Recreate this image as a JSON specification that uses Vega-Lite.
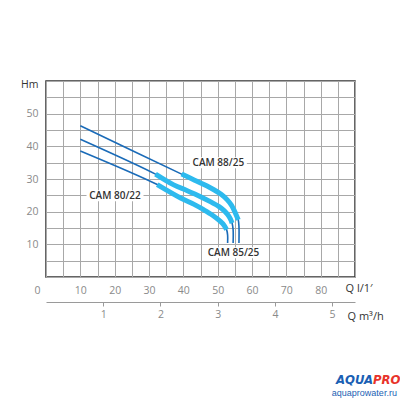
{
  "$schema": "https://vega.github.io/schema/vega-lite/v6.json",
  "width": 309,
  "height": 196,
  "autosize": "none",
  "padding": {"left": 46, "top": 81, "right": 45, "bottom": 123},
  "background": "white",
  "config": {
    "view": {"stroke": "#333333", "strokeWidth": 1.5},
    "axis": {
      "labelFont": "Open Sans",
      "labelFontSize": 10.5,
      "labelColor": "#8a8a8a",
      "titleFont": "Open Sans",
      "titleFontWeight": "normal",
      "titleFontSize": 11,
      "titleColor": "#333333",
      "gridColor": "#a8a8a8",
      "gridWidth": 1,
      "gridOpacity": 1
    }
  },
  "datasets": {
    "curves": [
      {"pump": "A", "i": 0, "q": 10, "h": 46.3, "thick": 0},
      {"pump": "A", "i": 1, "q": 39.5, "h": 31.5, "thick": 1},
      {"pump": "A", "i": 2, "q": 43.0, "h": 29.8, "thick": 1},
      {"pump": "A", "i": 3, "q": 46.0, "h": 28.3, "thick": 1},
      {"pump": "A", "i": 4, "q": 48.9, "h": 26.7, "thick": 1},
      {"pump": "A", "i": 5, "q": 51.0, "h": 25.3, "thick": 1},
      {"pump": "A", "i": 6, "q": 52.8, "h": 23.6, "thick": 1},
      {"pump": "A", "i": 7, "q": 54.0, "h": 22.0, "thick": 1},
      {"pump": "A", "i": 8, "q": 54.7, "h": 20.6, "thick": 1},
      {"pump": "A", "i": 9, "q": 55.4, "h": 19.0, "thick": 1},
      {"pump": "A", "i": 10, "q": 56.0, "h": 17.5, "thick": 1},
      {"pump": "A", "i": 11, "q": 56.2, "h": 15.5, "thick": 0},
      {"pump": "A", "i": 12, "q": 56.2, "h": 10.4, "thick": 0},
      {"pump": "B", "i": 0, "q": 10, "h": 42.2, "thick": 0},
      {"pump": "B", "i": 1, "q": 31.9, "h": 31.5, "thick": 1},
      {"pump": "B", "i": 2, "q": 37.2, "h": 28.2, "thick": 1},
      {"pump": "B", "i": 3, "q": 41.0, "h": 26.5, "thick": 1},
      {"pump": "B", "i": 4, "q": 45.0, "h": 24.6, "thick": 1},
      {"pump": "B", "i": 5, "q": 48.0, "h": 23.0, "thick": 1},
      {"pump": "B", "i": 6, "q": 50.3, "h": 21.6, "thick": 1},
      {"pump": "B", "i": 7, "q": 51.8, "h": 20.4, "thick": 1},
      {"pump": "B", "i": 8, "q": 52.9, "h": 19.1, "thick": 1},
      {"pump": "B", "i": 9, "q": 53.7, "h": 17.8, "thick": 1},
      {"pump": "B", "i": 10, "q": 54.2, "h": 16.5, "thick": 1},
      {"pump": "B", "i": 11, "q": 54.5, "h": 14.5, "thick": 0},
      {"pump": "B", "i": 12, "q": 54.5, "h": 10.4, "thick": 0},
      {"pump": "C", "i": 0, "q": 10, "h": 38.6, "thick": 0},
      {"pump": "C", "i": 1, "q": 32.4, "h": 28.3, "thick": 1},
      {"pump": "C", "i": 2, "q": 39.2, "h": 24.2, "thick": 1},
      {"pump": "C", "i": 3, "q": 43.0, "h": 22.3, "thick": 1},
      {"pump": "C", "i": 4, "q": 45.9, "h": 20.6, "thick": 1},
      {"pump": "C", "i": 5, "q": 48.5, "h": 18.9, "thick": 1},
      {"pump": "C", "i": 6, "q": 50.8, "h": 17.0, "thick": 1},
      {"pump": "C", "i": 7, "q": 51.9, "h": 15.8, "thick": 1},
      {"pump": "C", "i": 8, "q": 52.6, "h": 14.5, "thick": 1},
      {"pump": "C", "i": 9, "q": 52.9, "h": 12.8, "thick": 0},
      {"pump": "C", "i": 10, "q": 52.9, "h": 10.4, "thick": 0}
    ],
    "labels": [
      {"name": "CAM 88/25", "q": 50.2, "h": 35.0},
      {"name": "CAM 80/22", "q": 20.1, "h": 24.9},
      {"name": "CAM 85/25", "q": 54.6, "h": 7.4}
    ],
    "logo": [
      {"part": "AQUA", "q": 95.25, "h": -31.5},
      {"part": "PRO", "q": 95.25, "h": -31.5},
      {"part": "aquaprowater.ru", "q": 102.2, "h": -35.4}
    ],
    "m3h": [{"m3h": 0}, {"m3h": 5.4}]
  },
  "layer": [
    {
      "encoding": {
        "x": {
          "field": "q", "type": "quantitative",
          "scale": {"domain": [0, 90], "nice": false},
          "axis": {
            "values": [0, 5, 10, 15, 20, 25, 30, 35, 40, 45, 50, 55, 60, 65, 70, 75, 80, 85, 90],
            "labelExpr": "datum.value % 10 == 0 && datum.value < 90 ? datum.label : ''",
            "domain": false,
            "ticks": false,
            "grid": true,
            "labelPadding": 8,
            "labelFlush": false,
            "labelOverlap": false,
            "labelOffset": {"condition": {"test": "datum.value == 0", "value": -9}, "value": 0},
            "title": "Q l/1′",
            "titleX": 299,
            "titleY": 11,
            "titleAlign": "left",
            "titleBaseline": "middle"
          }
        },
        "y": {
          "field": "h", "type": "quantitative",
          "scale": {"domain": [0, 60], "nice": false},
          "axis": {
            "values": [0, 5, 10, 15, 20, 25, 30, 35, 40, 45, 50, 55, 60],
            "labelExpr": "datum.value == 60 ? 'Hm' : (datum.value % 10 == 0 && datum.value > 0 ? datum.label : '')",
            "labelColor": {"condition": {"test": "datum.value == 60", "value": "#333333"}, "value": "#8a8a8a"},
            "labelOffset": {"condition": {"test": "datum.value == 60", "value": 3}, "value": 0},
            "domain": false,
            "ticks": false,
            "grid": true,
            "labelPadding": 8,
            "labelFlush": false,
            "labelOverlap": false,
            "title": null
          }
        }
      },
      "layer": [
        {
          "data": {"name": "labels"},
          "mark": {"type": "rect", "fill": "white", "width": 57, "height": 11}
        },
        {
          "data": {"name": "curves"},
          "mark": {"type": "line", "color": "#1a6bb8", "strokeWidth": 1.6, "interpolate": "catmull-rom"},
          "encoding": {
            "detail": {"field": "pump"},
            "order": {"field": "i", "type": "quantitative"}
          }
        },
        {
          "data": {"name": "curves"},
          "transform": [{"filter": "datum.thick == 1"}],
          "mark": {"type": "line", "color": "#2dbaee", "strokeWidth": 5, "strokeCap": "butt", "interpolate": "catmull-rom"},
          "encoding": {
            "detail": {"field": "pump"},
            "order": {"field": "i", "type": "quantitative"}
          }
        },
        {
          "data": {"name": "labels"},
          "mark": {"type": "text", "font": "Open Sans", "fontSize": 10, "fontWeight": 600, "color": "#333333", "align": "center", "baseline": "middle"},
          "encoding": {
            "text": {"field": "name"}
          }
        },
        {
          "data": {"name": "logo"},
          "transform": [{"filter": "datum.part == 'AQUA'"}],
          "mark": {"type": "text", "font": "DejaVu Sans Condensed", "fontSize": 13, "fontWeight": "bold", "fontStyle": "italic", "color": "#1a5fb4", "align": "right", "baseline": "middle"},
          "encoding": {
            "text": {"field": "part"}
          }
        },
        {
          "data": {"name": "logo"},
          "transform": [{"filter": "datum.part == 'PRO'"}],
          "mark": {"type": "text", "font": "DejaVu Sans Condensed", "fontSize": 13, "fontWeight": "bold", "fontStyle": "italic", "color": "#e8332a", "align": "left", "baseline": "middle"},
          "encoding": {
            "text": {"field": "part"}
          }
        },
        {
          "data": {"name": "logo"},
          "transform": [{"filter": "datum.part == 'aquaprowater.ru'"}],
          "mark": {"type": "text", "font": "Liberation Sans", "fontSize": 9, "color": "#1a5fb4", "align": "right", "baseline": "middle"},
          "encoding": {
            "text": {"field": "part"}
          }
        }
      ]
    },
    {
      "data": {"name": "m3h"},
      "mark": {"type": "point", "opacity": 0},
      "encoding": {
        "x": {
          "field": "m3h", "type": "quantitative",
          "scale": {"domain": [0, 5.4], "nice": false},
          "axis": {
            "orient": "bottom",
            "offset": 25,
            "values": [1, 2, 3, 4, 5],
            "grid": false,
            "domain": true,
            "domainColor": "#9a9a9a",
            "domainWidth": 1,
            "ticks": true,
            "tickColor": "#9a9a9a",
            "tickSize": 4,
            "labelPadding": 3,
            "labelFlush": false,
            "labelOverlap": false,
            "title": "Q m³/h",
            "titleX": 301,
            "titleY": 14,
            "titleAlign": "left",
            "titleBaseline": "middle"
          }
        }
      }
    }
  ],
  "resolve": {"scale": {"x": "independent"}}
}
